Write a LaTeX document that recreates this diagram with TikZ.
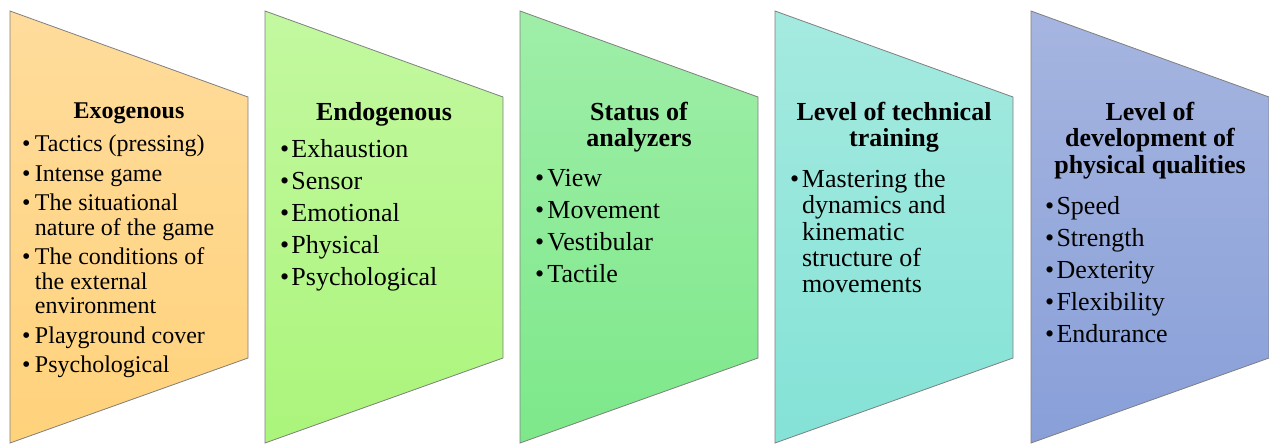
\documentclass[tikz,border=0pt]{standalone}
\usepackage{fontspec}
\setmainfont{Liberation Serif}
\newlength\bw
\newcommand\itm[1]{\par\noindent\hangindent=\bw\hangafter=1\relax\hbox to\bw{\textbullet\hss}#1}
\newcommand\nl{\hfil\break}
\newcommand\ttl[1]{{\leftskip=0pt plus 1fil\rightskip=0pt plus 1fil\parfillskip=0pt\bfseries #1\par}}
\newcommand\pset[5]{\hsize=#1pt\fontsize{#2}{#3}\selectfont\parskip=#4pt\parindent=0pt\lineskiplimit=-100pt\lineskip=0pt\rightskip=0pt plus 1fil\bw=#5pt\relax}
\definecolor{o1}{HTML}{FFDC9C}\definecolor{o2}{HTML}{FFD27B}
\definecolor{g1}{HTML}{C3F8A0}\definecolor{g2}{HTML}{ABF57B}
\definecolor{m1}{HTML}{9FEEA8}\definecolor{m2}{HTML}{7DE88A}
\definecolor{c1}{HTML}{A5EAE0}\definecolor{c2}{HTML}{84E2D6}
\definecolor{b1}{HTML}{A6B5E0}\definecolor{b2}{HTML}{889FD8}
\definecolor{edge}{HTML}{7F7F7F}
\tikzset{
  panel/.style={draw=edge, line width=0.8pt, line join=miter},
  txt/.style={anchor=base west, inner sep=0pt, outer sep=0pt, text=black}
}
\begin{document}
\begin{tikzpicture}[x=1pt,y=-1pt]
\useasboundingbox (0,0) rectangle (1269,445);
% panels
\foreach \L/\ca/\cb in {10/o1/o2, 265/g1/g2, 520/m1/m2, 775/c1/c2, 1031/b1/b2}{
  \shade[panel, top color=\ca, bottom color=\cb]
    (\L,11) -- (\L+238,97) -- (\L+238,358) -- (\L,443) -- cycle;
}
% texts
\node[txt] (exo) at (22,118.3) {\vtop{\pset{214}{24}{24.7}{4.6}{13}%
  \ttl{Exogenous}\vskip4.1pt
  \itm{Tactics (pressing)}
  \itm{Intense game}
  \itm{The situational\nl nature of the game}
  \itm{The conditions of\nl the external\nl environment}
  \itm{Playground cover}
  \itm{Psychological}\par}};
\node[txt] (endo) at (280,120.7) {\vtop{\pset{208}{26}{26.7}{5.3}{11.5}%
  \ttl{Endogenous}\vskip4.6pt
  \itm{Exhaustion}
  \itm{Sensor}
  \itm{Emotional}
  \itm{Physical}
  \itm{Psychological}\par}};
\node[txt] (anal) at (535,120) {\vtop{\pset{208}{26}{26.7}{5.3}{12.5}%
  \ttl{Status of\break analyzers}\vskip7.3pt
  \itm{View}
  \itm{Movement}
  \itm{Vestibular}
  \itm{Tactile}\par}};
\node[txt] (tech) at (790,120) {\vtop{\pset{208}{26}{26.2}{5.3}{12}%
  \ttl{Level of technical\break training}\vskip10pt
  \itm{Mastering the\nl dynamics and\nl kinematic\nl structure of\nl movements}\par}};
\node[txt] (phys) at (1045,120) {\vtop{\pset{210}{26}{26.7}{5.3}{11.5}%
  \ttl{Level of\break development of\break physical qualities}\vskip8.7pt
  \itm{Speed}
  \itm{Strength}
  \itm{Dexterity}
  \itm{Flexibility}
  \itm{Endurance}\par}};
\end{tikzpicture}
\end{document}
